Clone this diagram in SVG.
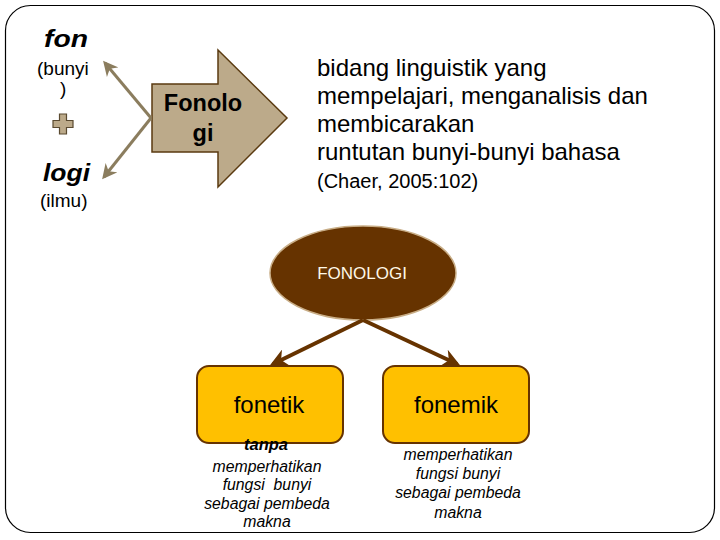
<svg xmlns="http://www.w3.org/2000/svg" width="720" height="540" viewBox="0 0 720 540">
<defs>
<style>
text{font-family:"Liberation Sans",Arial,sans-serif;fill:#000}
.bi{font-weight:bold;font-style:italic;font-size:23px}
.sm{font-size:19px}
.def{font-size:24px}
.it{font-style:italic;font-size:15.8px}
.tan{stroke:#8b7d5e;stroke-width:3;fill:none}
.br{stroke:#663300;stroke-width:4;fill:none}
</style>
<marker id="ta" viewBox="0 0 10 10" refX="8" refY="5" markerWidth="5" markerHeight="5" orient="auto" markerUnits="strokeWidth"><path d="M0,0 L10,5 L0,10 L3,5 Z" fill="#8b7d5e"/></marker>
<marker id="ba" viewBox="0 0 10 10" refX="8" refY="5" markerWidth="4.5" markerHeight="4.5" orient="auto" markerUnits="strokeWidth"><path d="M0,0 L10,5 L0,10 L3,5 Z" fill="#663300"/></marker>
</defs>
<rect x="0" y="0" width="720" height="540" fill="#fff"/>
<rect x="5.5" y="5.5" width="709" height="527" rx="25" fill="#fff" stroke="#000" stroke-width="1.2"/>
<g id="etymology">
<text class="bi" x="44" y="47" textLength="44" lengthAdjust="spacingAndGlyphs">fon</text>
<text class="sm" x="37" y="75">(bunyi</text>
<text class="sm" x="60" y="95">)</text>
<path d="M59.5,114 h7 v6.5 h6.5 v7 h-6.5 v6.5 h-7 v-6.5 h-6.5 v-7 h6.5 Z" fill="#bcaa8a" stroke="#5a4a30" stroke-width="1.2"/>
<text class="bi" x="43" y="181" textLength="47" lengthAdjust="spacingAndGlyphs">logi</text>
<text class="sm" x="40" y="207">(ilmu)</text>
</g>
<g id="fonologi-arrow">
<path d="M152,84 H218 V50 L287,118 L218,187 V152 H152 Z" fill="#bcaa8a" stroke="#5a3a10" stroke-width="1.5"/>
<text x="203" y="111" font-size="23.5" font-weight="bold" text-anchor="middle">Fonolo</text>
<text x="203" y="141" font-size="23.5" font-weight="bold" text-anchor="middle">gi</text>
</g>
<g id="definition">
<text class="def" x="317" y="76">bidang linguistik yang</text>
<text class="def" x="317" y="104">mempelajari, menganalisis dan</text>
<text class="def" x="317" y="132">membicarakan</text>
<text class="def" x="317" y="160">runtutan bunyi-bunyi bahasa</text>
<text x="317" y="188" font-size="20">(Chaer, 2005:102)</text>
</g>
<g id="fonologi-node">
<ellipse cx="363" cy="273" rx="93" ry="47" fill="#663300" stroke="#c8ad86" stroke-width="1.5"/>
<text x="362" y="279" font-size="17" text-anchor="middle" style="fill:#fff8e8">FONOLOGI</text>
</g>
<g id="fonetik">
<rect x="197" y="366" width="146" height="77" rx="12" fill="#ffc000" stroke="#663300" stroke-width="2"/>
<text x="269" y="413" font-size="24" text-anchor="middle">fonetik</text>
<text x="266" y="450" font-size="16.5" font-weight="bold" font-style="italic" text-anchor="middle">tanpa</text>
<text class="it" x="267" y="472" text-anchor="middle">memperhatikan</text>
<text class="it" x="267" y="490" text-anchor="middle" xml:space="preserve">fungsi  bunyi</text>
<text class="it" x="267" y="509" text-anchor="middle">sebagai pembeda</text>
<text class="it" x="267" y="527" text-anchor="middle">makna</text>
</g>
<g id="fonemik">
<rect x="383" y="366" width="146" height="77" rx="12" fill="#ffc000" stroke="#663300" stroke-width="2"/>
<text x="456" y="413" font-size="24" text-anchor="middle">fonemik</text>
<text class="it" x="458" y="460" text-anchor="middle">memperhatikan</text>
<text class="it" x="458" y="479" text-anchor="middle">fungsi bunyi</text>
<text class="it" x="458" y="498" text-anchor="middle">sebagai pembeda</text>
<text class="it" x="458" y="518" text-anchor="middle">makna</text>
</g>
<g id="connectors">
<line class="tan" x1="151" y1="118" x2="105" y2="63" marker-end="url(#ta)"/>
<line class="tan" x1="151" y1="118" x2="104" y2="177" marker-end="url(#ta)"/>
<line class="br" x1="363" y1="320" x2="273" y2="364" marker-end="url(#ba)"/>
<line class="br" x1="363" y1="320" x2="457" y2="364" marker-end="url(#ba)"/>
</g>
</svg>
